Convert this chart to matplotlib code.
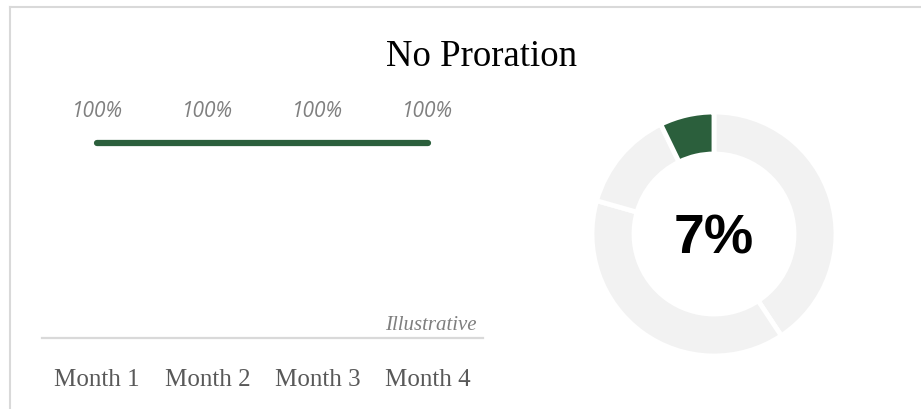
import matplotlib
import matplotlib.pyplot as plt
from matplotlib.lines import Line2D

matplotlib.use('Agg')

# line chart data
months = ["Month 1", "Month 2", "Month 3", "Month 4"]
proration = [100, 100, 100, 100]
point_labels = ["100%", "100%", "100%", "100%"]

# doughnut data (clockwise from the top), last slice is highlighted
donut_values = [40.7, 38.7, 13.4, 7.2]
donut_label = "7%"

GREEN = "#2B5F3C"
LIGHT = "#F2F2F2"
AXIS_GREY = "#D9D9D9"

W, H = 921, 409
fig = plt.figure(figsize=(W / 100, H / 100), dpi=100)


def px_axes(left, top, width, height):
    # place an axes using pixel coordinates measured from the top-left corner
    return fig.add_axes([left / W, (H - top - height) / H, width / W, height / H])


# outer frame (only top and left edges are visible)
fig.add_artist(Line2D([10 / W, 10 / W], [0, 1 - 7 / H], transform=fig.transFigure,
                      color=AXIS_GREY, lw=1.5))
fig.add_artist(Line2D([10 / W, 1], [1 - 7 / H, 1 - 7 / H], transform=fig.transFigure,
                      color=AXIS_GREY, lw=1.5))

fig.text(481 / W, 1 - 57 / H, "No Proration", ha="center", va="center",
         fontsize=26.5, family="Liberation Serif", color="black")

# --- line chart ---
ax = px_axes(42, 120, 441, 218)
x = range(len(months))
ax.plot(x, proration, color=GREEN, lw=4.5, solid_capstyle="round")
ax.set_xlim(-0.5, len(months) - 0.5)
ax.set_ylim(0, 100 * 218 / 195)
for xi, yi, lab in zip(x, proration, point_labels):
    ax.annotate(lab, (xi, yi), xytext=(0, 23), textcoords="offset points",
                ha="center", va="center", fontsize=15, style="italic",
                family="Open Sans", color="#808080")

for side in ["top", "right", "left"]:
    ax.spines[side].set_visible(False)
ax.spines["bottom"].set_color(AXIS_GREY)
ax.spines["bottom"].set_linewidth(1.6)
ax.set_yticks([])
ax.set_xticks(list(x))
ax.set_xticklabels(months, family="Liberation Serif", fontsize=18, color="#595959")
ax.tick_params(axis="x", length=0, pad=22)
ax.patch.set_alpha(0)

ax.text(1.0 - 6 / 441, 12 / 218, "Illustrative", transform=ax.transAxes,
        ha="right", va="center", fontsize=15, style="italic",
        family="Liberation Serif", color="#7F7F7F")

# --- doughnut ---
r = 122
dax = px_axes(714 - r, 234 - r, 2 * r, 2 * r)
colors = [LIGHT] * (len(donut_values) - 1) + [GREEN]
dax.pie(donut_values, colors=colors, startangle=90, counterclock=False, radius=1,
        wedgeprops=dict(width=42 / r, edgecolor="white", linewidth=3.5))
dax.set_xlim(-1, 1)
dax.set_ylim(-1, 1)
dax.text(0, -6 / r, donut_label, ha="center", va="center", fontsize=40,
         fontweight="bold", family="Liberation Sans", color="black")

fig.savefig("out.png", dpi=100)
